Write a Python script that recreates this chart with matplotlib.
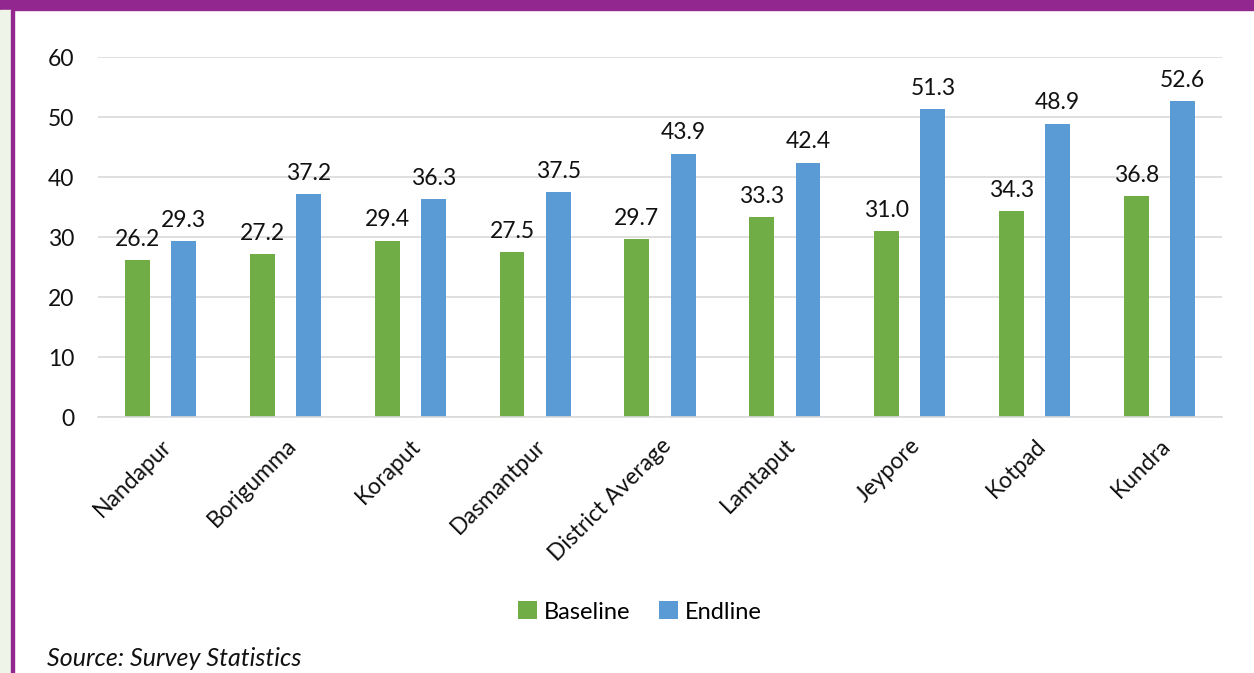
import numpy as np
import matplotlib.pyplot as plt
from matplotlib.patches import Rectangle

plt.rcParams['font.family'] = ['Lato', 'DejaVu Sans']

blocks = ['Nandapur', 'Borigumma', 'Koraput', 'Dasmantpur', 'District Average',
          'Lamtaput', 'Jeypore', 'Kotpad', 'Kundra']
baseline = [26.2, 27.2, 29.4, 27.5, 29.7, 33.3, 31.0, 34.3, 36.8]
endline = [29.3, 37.2, 36.3, 37.5, 43.9, 42.4, 51.3, 48.9, 52.6]

green = '#70AD47'
blue = '#5B9BD5'
purple = '#92278F'
fs = 16.5

fig = plt.figure(figsize=(12.54, 6.73), dpi=100)

# page decoration: purple header band, left rule and pale side strip
fig.patches.append(Rectangle((0, 1 - 10/673), 1, 10/673, transform=fig.transFigure,
                             color=purple, zorder=0))
fig.patches.append(Rectangle((0, 0), 11/1254, 1 - 10/673, transform=fig.transFigure,
                             color='#EEF5E8', zorder=0))
fig.patches.append(Rectangle((11/1254, 0), 3/1254, 1 - 10/673, transform=fig.transFigure,
                             color=purple, zorder=0))

ax = fig.add_axes([98/1254, 1 - 417/673, 1124/1254, 360/673])

x = np.arange(len(blocks))
w = 0.2
off = 0.185
b1 = ax.bar(x - off, baseline, w, color=green, label='Baseline', zorder=2)
b2 = ax.bar(x + off, endline, w, color=blue, label='Endline', zorder=2)

for bars, vals in ((b1, baseline), (b2, endline)):
    for rect, v in zip(bars, vals):
        ax.text(rect.get_x() + rect.get_width() / 2, v + 1.7, f'{v:.1f}',
                ha='center', va='bottom', fontsize=fs, color='#111111')

ax.set_xlim(-0.5, len(blocks) - 0.5)
ax.set_ylim(0, 60)
ax.set_yticks(range(0, 61, 10))
ax.yaxis.grid(True, color='#D9D9D9', linewidth=1.2, zorder=0)
ax.set_axisbelow(True)
for s in ['top', 'right', 'left']:
    ax.spines[s].set_visible(False)
ax.spines['bottom'].set_color('#D9D9D9')
ax.spines['bottom'].set_linewidth(1.2)
ax.tick_params(axis='both', length=0, labelsize=fs, colors='#111111')
ax.tick_params(axis='y', pad=17)
ax.set_xticks(x)
ax.set_xticklabels(blocks, rotation=45, ha='right', rotation_mode='anchor')
ax.tick_params(axis='x', pad=13)

fig.legend(handles=[b1, b2], loc='center', bbox_to_anchor=(640/1254, 1 - 612/673),
           ncol=2, frameon=False, fontsize=17, handlelength=0.8, handleheight=0.8,
           handletextpad=0.3, columnspacing=1.2)

fig.text(47/1254, 1 - 658/673, 'Source: Survey Statistics', fontsize=18,
         style='italic', va='center', ha='left', color='#111111')

fig.savefig('out.png', dpi=100)
